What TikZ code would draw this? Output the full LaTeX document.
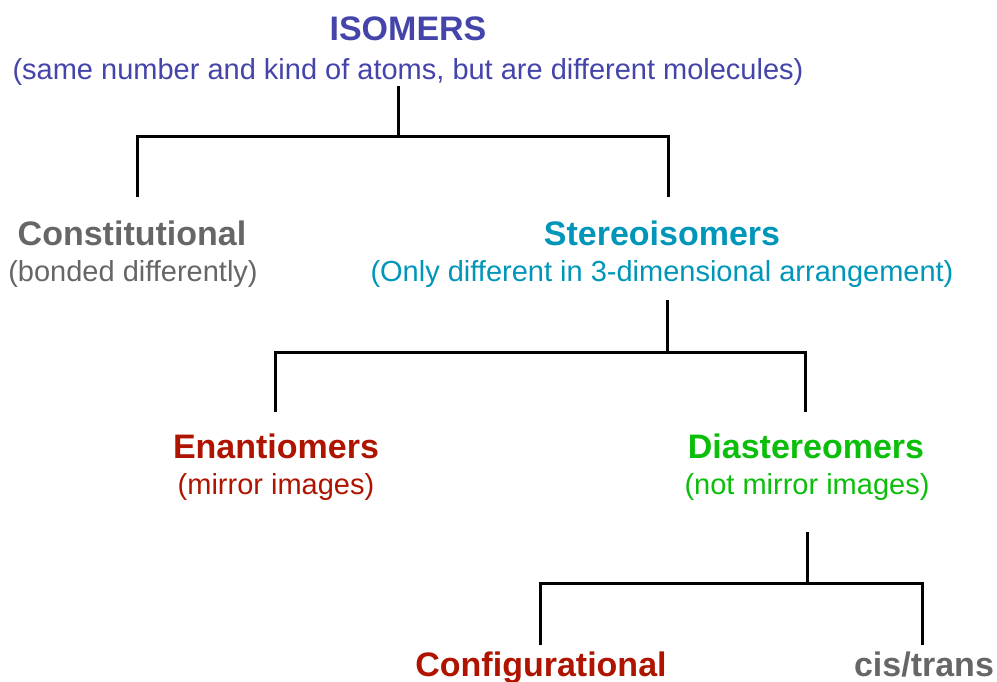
\documentclass[tikz,border=0pt]{standalone}
\usepackage{fontspec}
\setmainfont{Liberation Sans}

\definecolor{isoblue}{RGB}{68,68,170}
\definecolor{greytext}{RGB}{102,102,102}
\definecolor{stereoteal}{RGB}{0,150,185}
\definecolor{darkred}{RGB}{175,20,0}
\definecolor{brightgreen}{RGB}{10,190,10}

\tikzset{
    title/.style={anchor=base, inner sep=0pt, font=\fontsize{34}{36}\selectfont\bfseries},
    sub/.style={anchor=base, inner sep=0pt, font=\fontsize{29}{31}\selectfont},
    link/.style={black, line width=3pt}
}

\begin{document}
\begin{tikzpicture}[x=1pt, y=-1pt]

        \useasboundingbox (0, 0) rectangle (997, 681);

        % labels
        \node[title, isoblue] (iso) at (408, 40) {ISOMERS};
        \node[sub, isoblue] (isosub) at (408, 79) {(same number and kind of atoms, but are different molecules)};

        \node[title, greytext] (const) at (132, 245) {Constitutional};
        \node[sub, greytext] (constsub) at (133, 281) {(bonded differently)};

        \node[title, stereoteal] (stereo) at (662, 245) {Stereoisomers};
        \node[sub, stereoteal] (stereosub) at (662, 281) {(Only different in 3-dimensional arrangement)};

        \node[title, darkred] (enan) at (276, 458) {Enantiomers};
        \node[sub, darkred] (enansub) at (276, 494) {(mirror images)};

        \node[title, brightgreen] (dia) at (806, 458) {Diastereomers};
        \node[sub, brightgreen] (diasub) at (807, 494) {(not mirror images)};

        \node[title, darkred] (conf) at (541, 676) {Configurational};
        \node[title, greytext] (cis) at (924, 676) {cis/trans};

        % bracket ends
        \coordinate (isoFoot) at (398, 86);
        \coordinate (isoBar) at (398, 136);
        \coordinate (constHead) at (137, 197);
        \coordinate (stereoHead) at (668, 197);

        \coordinate (stereoFoot) at (667, 300);
        \coordinate (stereoBar) at (667, 352);
        \coordinate (enanHead) at (275, 412);
        \coordinate (diaHead) at (805, 412);

        \coordinate (diaFoot) at (807, 532);
        \coordinate (diaBar) at (807, 583);
        \coordinate (confHead) at (540, 645);
        \coordinate (cisHead) at (922, 645);

        % brackets
        \draw[link] (isoFoot) -- (isoBar);
        \draw[link] (constHead) -- (constHead |- isoBar) -- (stereoHead |- isoBar) -- (stereoHead);

        \draw[link] (stereoFoot) -- (stereoBar);
        \draw[link] (enanHead) -- (enanHead |- stereoBar) -- (diaHead |- stereoBar) -- (diaHead);

        \draw[link] (diaFoot) -- (diaBar);
        \draw[link] (confHead) -- (confHead |- diaBar) -- (cisHead |- diaBar) -- (cisHead);

\end{tikzpicture}
\end{document}
